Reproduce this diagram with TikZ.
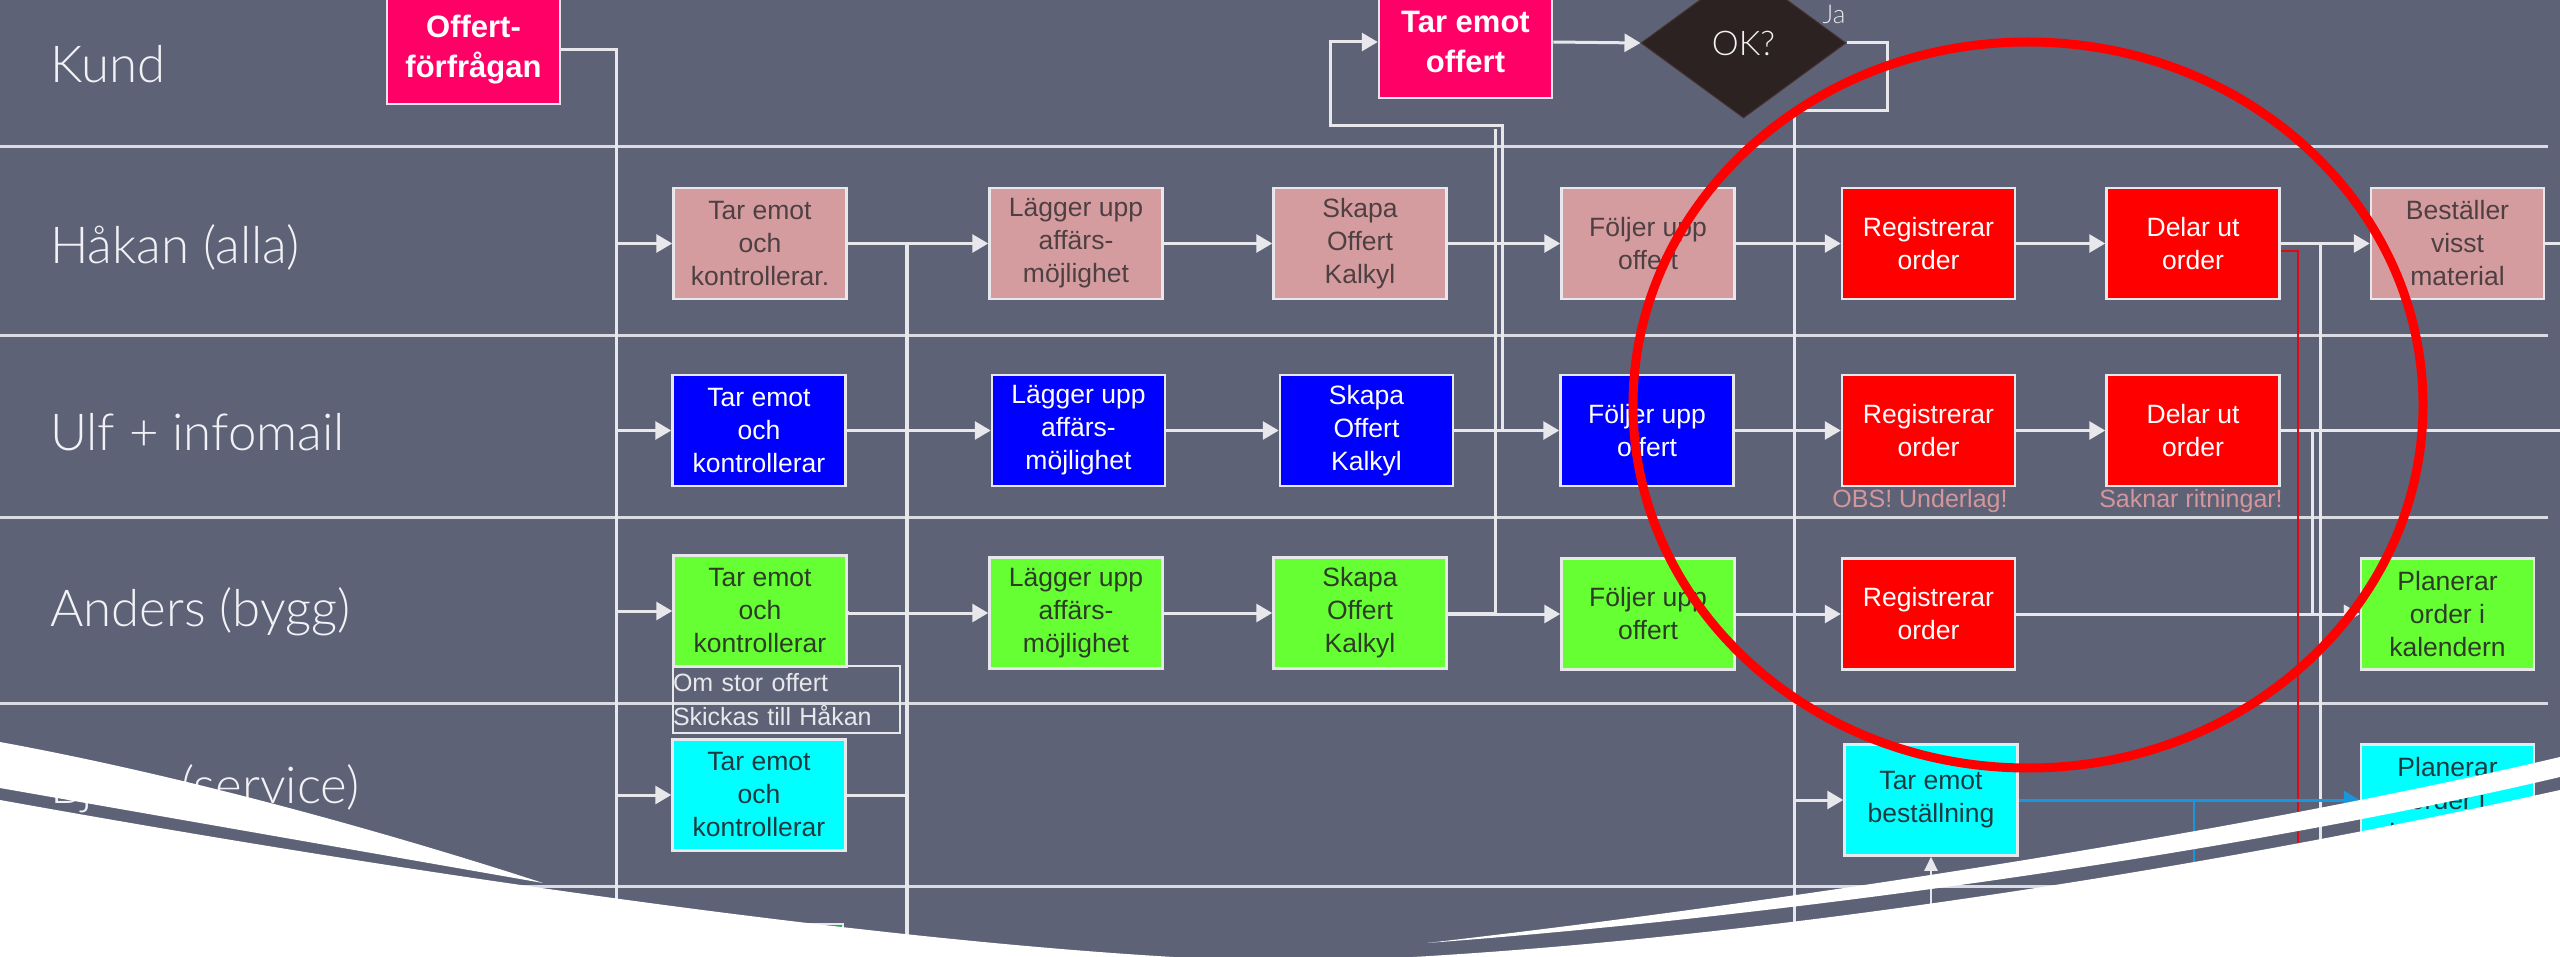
\documentclass[tikz,border=0pt]{standalone}
\usepackage{fontspec}
\setmainfont{Liberation Sans}
\newfontfamily\lightfont{Lato Light}
\usetikzlibrary{arrows.meta,shapes.geometric}

\definecolor{bg}{RGB}{93,98,119}
\definecolor{wire}{RGB}{232,232,236}
\definecolor{laneline}{RGB}{218,220,226}
\definecolor{rose}{RGB}{213,156,160}
\definecolor{rosetext}{RGB}{78,64,66}
\definecolor{bluefill}{RGB}{0,0,255}
\definecolor{greenfill}{RGB}{102,255,51}
\definecolor{greentext}{RGB}{45,60,38}
\definecolor{cyanfill}{RGB}{0,255,255}
\definecolor{cyantext}{RGB}{30,58,64}
\definecolor{redfill}{RGB}{255,0,0}
\definecolor{redwire}{RGB}{225,10,20}
\definecolor{kundfill}{RGB}{255,0,102}
\definecolor{okfill}{RGB}{43,34,33}
\definecolor{okedge}{RGB}{70,50,48}
\definecolor{blueline}{RGB}{25,150,220}
\definecolor{notetext}{RGB}{212,150,154}
\definecolor{deepgreen}{RGB}{20,180,80}
\definecolor{labeltext}{RGB}{242,242,246}

\pgfdeclarelayer{ground}
\pgfdeclarelayer{wires}
\pgfsetlayers{ground,wires,main}

\begin{document}
\begin{tikzpicture}[x=1pt,y=-1pt,
  stepbox/.style={draw=wire, line width=2.5pt, minimum width=173pt,
    minimum height=111pt, inner sep=0pt, align=center,
    font=\fontsize{26.5}{33}\selectfont},
  rosebox/.style={stepbox, fill=rose, text=rosetext},
  bluebox/.style={stepbox, fill=bluefill, text=white},
  greenbox/.style={stepbox, fill=greenfill, text=greentext},
  cyanbox/.style={stepbox, fill=cyanfill, text=cyantext},
  redbox/.style={stepbox, fill=redfill, text=white},
  kundbox/.style={stepbox, fill=kundfill, text=white,
    font=\bfseries\fontsize{31}{40}\selectfont},
  lanelabel/.style={anchor=base west, inner sep=0pt, text=labeltext,
    font=\lightfont\fontsize{51}{60}\selectfont},
  warn/.style={text=notetext, inner sep=0pt, font=\fontsize{25}{30}\selectfont},
  conn/.style={draw=wire, line width=3pt},
  arr/.style={conn, -{Triangle[length=16pt,width=18pt]}},
  lanesep/.style={draw=laneline, line width=3pt},
]
\useasboundingbox (0,0) rectangle (2560,957);

\begin{pgfonlayer}{ground}
\fill[bg] (0,0) rectangle (2560,957);
% swimlane separators
\foreach \yy in {147,336,517,703,886}
  \draw[lanesep] (0,\yy) -- (2548,\yy);
\end{pgfonlayer}

% lane titles
\node[lanelabel] (lk) at (50,83)  {Kund};
\node[lanelabel] (lh) at (50,264) {Håkan (alla)};
\node[lanelabel] (lu) at (50,450) {Ulf + infomail};
\node[lanelabel] (la) at (50,626) {Anders (bygg)};
\node[lanelabel] (lb) at (50,803) {Björn (service)};

% ---- Kund
\node[kundbox, minimum height=108pt] (k1) at (473.5,50) {Offert-\\förfrågan};
\node[kundbox, minimum height=112pt] (k2) at (1465.5,42) {Tar emot\\offert};
\node[diamond, fill=okfill, draw=okedge, line width=1pt, minimum width=205pt,
  minimum height=150pt, inner sep=0pt, text=labeltext,
  font=\lightfont\fontsize{34}{40}\selectfont] (ok) at (1743.5,43) {OK?};
\node[text=wire, inner sep=0pt, font=\lightfont\fontsize{26}{30}\selectfont]
  (ja) at (1834,14) {Ja};

% ---- Håkan
\node[rosebox] (h1) at (760,243.5)  {Tar emot\\och\\kontrollerar.};
\node[rosebox] (h2) at (1076,243.5) {Lägger upp\\affärs-\\möjlighet};
\node[rosebox] (h3) at (1360,243.5) {Skapa\\Offert\\Kalkyl};
\node[rosebox] (h4) at (1648,243.5) {Följer upp\\offert};
\node[redbox]  (h5) at (1928.5,243.5) {Registrerar\\order};
\node[redbox]  (h6) at (2193,243.5) {Delar ut\\order};
\node[rosebox] (h7) at (2457.5,243.5) {Beställer\\visst\\material};

% ---- Ulf
\node[bluebox] (u1) at (759,430.5)    {Tar emot\\och\\kontrollerar};
\node[bluebox] (u2) at (1078.5,430.5) {Lägger upp\\affärs-\\möjlighet};
\node[bluebox] (u3) at (1366.5,430.5) {Skapa\\Offert\\Kalkyl};
\node[bluebox] (u4) at (1647,430.5)   {Följer upp\\offert};
\node[redbox]  (u5) at (1928.5,430.5) {Registrerar\\order};
\node[redbox]  (u6) at (2193,430.5)   {Delar ut\\order};
\node[warn] (w1) at (1920,501) {OBS! Underlag!};
\node[warn] (w2) at (2191,501) {Saknar ritningar!};

% ---- Anders
\node[greenbox] (a1) at (760,611)    {Tar emot\\och\\kontrollerar};
\node[greenbox] (a2) at (1076,613)   {Lägger upp\\affärs-\\möjlighet};
\node[greenbox] (a3) at (1360,613)   {Skapa\\Offert\\Kalkyl};
\node[greenbox] (a4) at (1648,614)   {Följer upp\\offert};
\node[redbox]   (a5) at (1928.5,614) {Registrerar\\order};
\node[greenbox] (a7) at (2447.5,614) {Planerar\\order i\\kalendern};
\node[draw=wire, line width=2pt, minimum width=227pt, minimum height=67pt,
  text width=227pt, inner sep=0pt, align=left, text=wire,
  font=\fontsize{25}{34}\selectfont] (note) at (786.5,699.5)
  {Om stor offert\\Skickas till Håkan};

% ---- Björn
\node[cyanbox] (bj1) at (759,795)    {Tar emot\\och\\kontrollerar};
\node[cyanbox] (bj5) at (1931,800)   {Tar emot\\beställning};
\node[cyanbox] (bj7) at (2447.5,800) {Planerar\\order i\\kalendern};

% ---- next lane, top edge of its first step
\filldraw[fill=deepgreen, draw=wire, line width=2.5pt] (673,924) rectangle (843,1000);

% ---- connectors
\coordinate (busAfoot) at (616,957);
\coordinate (busBfoot) at (907,957);
\coordinate (busCfoot) at (1794,957);
\coordinate (loopR) at (1502,126);
\coordinate (loopL) at (1330,126);
\coordinate (loopJoin) at (1495,129);
\coordinate (jaR) at (1887,43);
\coordinate (jaL) at (1794,111);
\coordinate (dropR) at (2320,957);
\coordinate (ulfDrop) at (2312,614);
\coordinate (edgeH) at (2560,243.5);
\coordinate (edgeU) at (2560,430.5);
\coordinate (redFoot) at (2298,957);
\coordinate (blueDrop) at (2194,957);
\coordinate (upFoot) at (1931,957);

\begin{pgfonlayer}{wires}
% incoming request spread to every lane
\draw[conn] (k1.east) -| (busAfoot);
\foreach \n in {h1,u1,a1,bj1}
  \draw[arr] (\n.west -| busAfoot) -- (\n.west);

% from first check to the next step
\draw[conn, line width=4.5pt] (h1.east -| busBfoot) -- (busBfoot);
\draw[conn] (bj1.east) -- (bj1.east -| busBfoot);
\draw[arr] (h1.east) -- (h2.west);
\draw[arr] (u1.east) -- (u2.west);
\draw[arr] (a1.east) -- (a2.west -| a1.east) -- (a2.west);

\draw[arr] (h2.east) -- (h3.west);
\draw[arr] (u2.east) -- (u3.west);
\draw[arr] (a2.east) -- (a3.west);

\draw[arr] (h3.east) -- (h4.west);
\draw[arr] (u3.east) -- (u4.west);
\draw[arr] (a3.east) -- (a4.west -| a3.east) -- (a4.west);

% offer goes back to the customer
\draw[arr] (u3.east) -| (loopR) -- (loopL) |- (k2.west);
\draw[conn] (a3.east) -| (loopJoin);
\draw[arr] (k2.east) -- (ok.west);

% accepted offer becomes an order
\draw[conn] (ok.east) -- (jaR) |- (jaL) -- (busCfoot);
\draw[arr] (h4.east) -- (h5.west);
\draw[arr] (u4.east) -- (u5.west);
\draw[arr] (a4.east) -- (a5.west);
\draw[arr] (bj5.west -| busCfoot) -- (bj5.west);

\draw[arr] (h5.east) -- (h6.west);
\draw[arr] (u5.east) -- (u6.west);

\draw[arr] (h6.east) -- (h7.west);
\draw[conn] (h6.east -| dropR) -- (dropR);
\draw[conn] (h7.east) -- (edgeH);
\draw[conn] (u6.east) -- (edgeU);
\draw[arr] (u6.east -| ulfDrop) -- (ulfDrop) -- (a7.west);
\draw[arr] (a5.east) -- (a7.west);

\draw[draw=redwire, line width=2.5pt] ([yshift=-7.5pt]h6.east) -| (redFoot);

\draw[draw=blueline, line width=3pt, -{Triangle[length=16pt,width=18pt]}]
  (bj5.east) -- (bj7.west);
\draw[draw=blueline, line width=2pt] (bj5.east -| blueDrop) -- (blueDrop);
\draw[conn, line width=2pt, -{Triangle[length=14pt,width=13pt]}] (upFoot) -- (bj5.south);
\end{pgfonlayer}

% highlight ring round the order handling
\draw[draw=red, line width=9pt] (2028,405) ellipse [x radius=395pt, y radius=363pt];

% white swoosh along the bottom
\fill[white] (0,800) .. controls (500,890) and (1000,957) .. (1300,962)
  .. controls (1700,950) and (2200,870) .. (2560,790) -- (2560,970) -- (0,970) -- cycle;
\fill[white] (0,742) .. controls (180,775) and (380,830) .. (543,883) -- (0,788) -- cycle;
\fill[white] (1427,943) .. controls (1800,900) and (2250,830) .. (2560,757)
  -- (2560,777) .. controls (2250,850) and (1800,915) .. (1427,943) -- cycle;
\end{tikzpicture}
\end{document}
